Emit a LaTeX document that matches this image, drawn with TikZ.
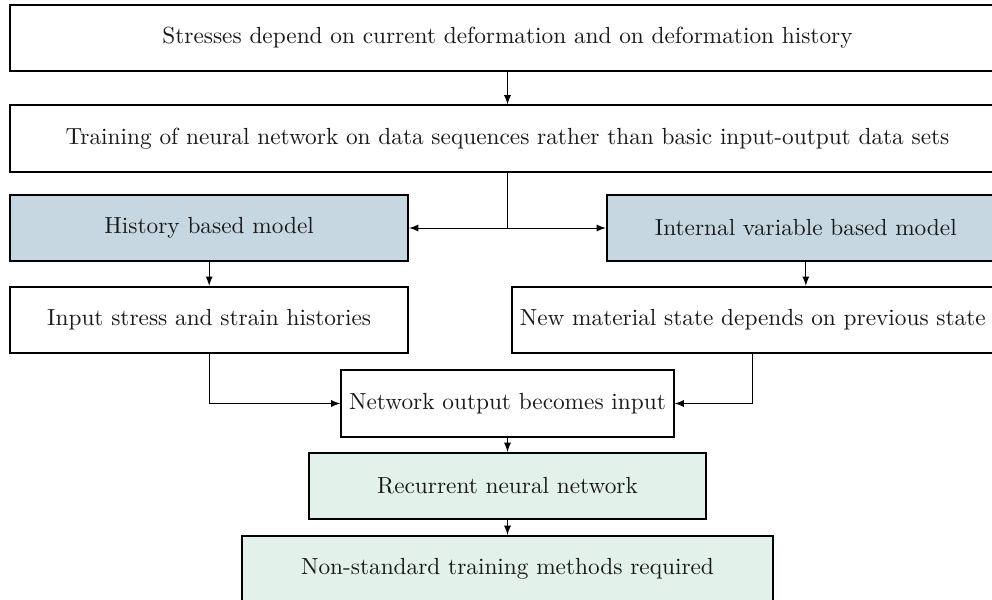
\documentclass[tikz,border=0pt]{standalone}
\usetikzlibrary{arrows}
\definecolor{modelblue}{HTML}{C6D7E1}
\definecolor{rnngreen}{HTML}{E2F1EA}
\begin{document}
\begin{tikzpicture}[
  box/.style={draw, thick, minimum height=1cm, align=center, inner sep=0.333em, text=black!90},
  plainbox/.style={box, fill=white},
  modelbox/.style={box, fill=modelblue},
  rnnbox/.style={box, fill=rnngreen},
  link/.style={-latex, thin}
]
\useasboundingbox (-7.655,0.573) rectangle (7.308,-8.477);

% problem statement
\node[plainbox, minimum width=15cm] (stress) at (0,0)
  {Stresses depend on current deformation and on deformation history};
\node[plainbox, minimum width=15cm] (train) at (0,-1.516)
  {Training of neural network on data sequences rather than basic input-output data sets};

% two modelling routes
\node[modelbox, minimum width=6cm] (hist) at (-4.5,-2.866) {History based model};
\node[modelbox, minimum width=6cm] (internal) at (4.5,-2.866) {Internal variable based model};

\node[plainbox, minimum width=6cm] (input) at (-4.5,-4.253) {Input stress and strain histories};
\node[plainbox] (newstate) at (3.70,-4.253) {New material state depends on previous state};

% common consequence
\node[plainbox] (network) at (0,-5.513) {Network output becomes input};
\node[rnnbox, minimum width=6cm] (rnn) at (0,-6.757) {Recurrent neural network};
\node[rnnbox, minimum width=8cm] (nonstd) at (0,-8.009) {Non-standard training methods required};

% connectors
\draw[link] (stress) -- (train);
\coordinate (split) at (train.south |- hist.east);
\draw[thin] (train.south) -- (split);
\draw[link] (split) -- (hist.east);
\draw[link] (split) -- (internal.west);
\draw[link] (hist) -- (input);
\draw[link] (internal.south) -- (internal.south |- newstate.north);
\draw[link] (input.south) |- (network.west);
\draw[link] (newstate.south) |- (network.east);
\draw[link] (network) -- (rnn);
\draw[link] (rnn) -- (nonstd);
\end{tikzpicture}
\end{document}
